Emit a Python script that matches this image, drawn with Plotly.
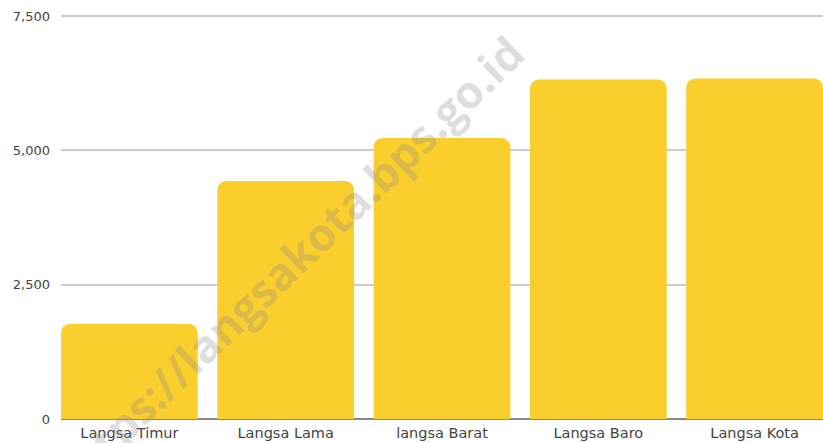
import plotly.graph_objects as go

categories = ['Langsa Timur', 'Langsa Lama', 'langsa Barat', 'Langsa Baro', 'Langsa Kota']
values = [1770, 4430, 5230, 6320, 6340]
y_ticks = [0, 2500, 5000, 7500]
y_tick_labels = ['0', '2,500', '5,000', '7,500']

BAR_COLOR = '#FACE2C'
TEXT_COLOR = '#444444'
GRID_COLOR = '#CCCCCC'
GAP = 0.125

fig = go.Figure()
fig.add_trace(go.Bar(x=categories, y=values, marker_color=BAR_COLOR,
                     marker_line_width=0, marker_cornerradius=9,
                     hoverinfo='x+y'))

# watermark
fig.add_annotation(text='https://langsakota.bps.go.id', xref='paper', yref='paper',
                   x=0.298, y=0.385, xanchor='center', yanchor='middle',
                   showarrow=False, textangle=-44,
                   font=dict(family='Open Sans', size=45, color='rgba(140,140,140,0.28)', weight='bold'))

fig.update_layout(
    width=823, height=443,
    plot_bgcolor='white', paper_bgcolor='white',
    font=dict(family='DejaVu Sans', size=13, color=TEXT_COLOR),
    margin=dict(l=61, r=0, t=14, b=24),
    bargap=GAP, showlegend=False,
    # bars sit flush with the plot edges
    xaxis=dict(range=[-0.5 + GAP / 2, len(categories) - 0.5 - GAP / 2],
               showgrid=False, showline=False, ticks='', automargin=False,
               ticklabelstandoff=3, tickfont=dict(size=14.5)),
    yaxis=dict(range=[0, 7540], tickvals=y_ticks, ticktext=y_tick_labels,
               showgrid=True, gridcolor=GRID_COLOR, gridwidth=2,
               zeroline=True, zerolinecolor='#888888', zerolinewidth=2,
               ticks='', ticklabelstandoff=10, automargin=False),
)

# page body has a default 8px margin; drop it so the figure fills the window
fig.write_html('out.html', config={'displayModeBar': False},
               post_script="document.body.style.margin='0';")
